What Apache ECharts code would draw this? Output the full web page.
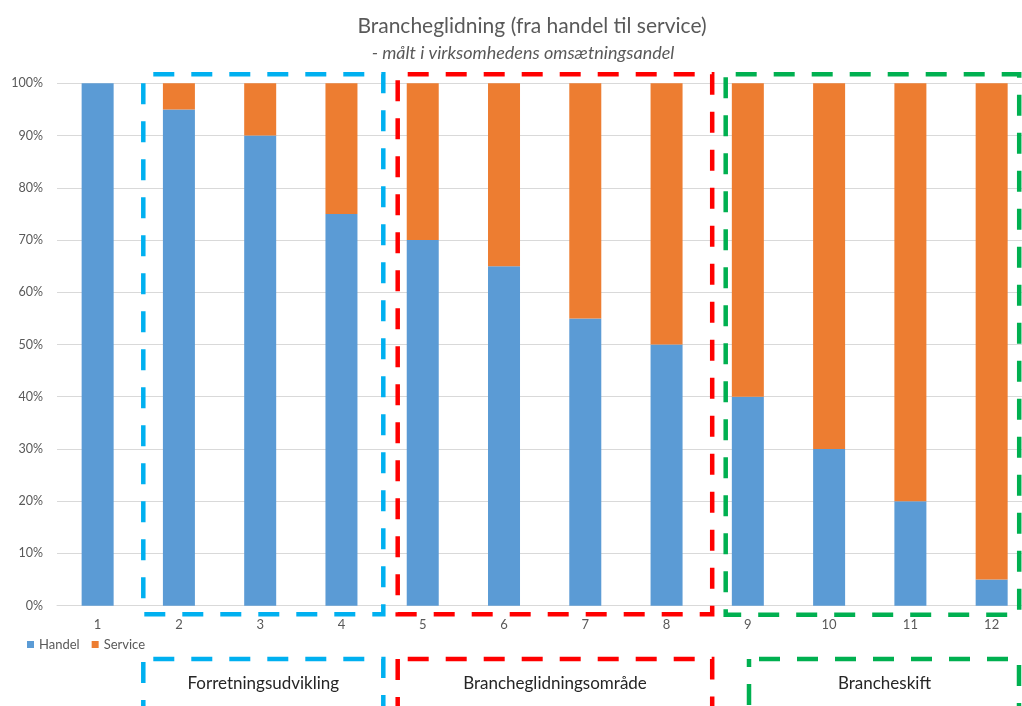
<!DOCTYPE html>
<html>
<head>
<meta charset="utf-8">
<script src="https://cdn.jsdelivr.net/npm/echarts@6/dist/echarts.min.js"></script>
<style>
  html, body { margin: 0; padding: 0; background: #fff; }
  #chart { width: 1022px; height: 706px; }
</style>
</head>
<body>
<div id="chart"></div>
<script>
// ---- data ----
const categories = ['1', '2', '3', '4', '5', '6', '7', '8', '9', '10', '11', '12'];
const handel = [100, 95, 90, 75, 70, 65, 55, 50, 40, 30, 20, 5];
const service = [0, 5, 10, 25, 30, 35, 45, 50, 60, 70, 80, 95];
const yTicks = [0, 10, 20, 30, 40, 50, 60, 70, 80, 90, 100];
const seriesNames = ['Handel', 'Service'];
const groupLabels = ['Forretningsudvikling', 'Brancheglidningsområde', 'Brancheskift'];
const titleText = 'Brancheglidning (fra handel til service)';
const subtitleText = '- målt i virksomhedens omsætningsandel';

const FONT = 'Lato, "Liberation Sans", sans-serif';
const GRAY = '#595959';
const DASH = [21, 17];
const DASH_OFF = 28;

function box(x, y, w, h, color) {
  return {
    type: 'rect',
    shape: { x: x, y: y, width: w, height: h },
    style: { fill: null, stroke: color, lineWidth: 4.5, lineDash: DASH, lineDashOffset: DASH_OFF },
    z: 100
  };
}
function label(cx, cy, text) {
  return {
    type: 'text',
    x: cx, y: cy,
    style: { text: text, fill: '#262626', font: '17px ' + FONT, textAlign: 'center', textVerticalAlign: 'middle' },
    z: 101
  };
}

const chart = echarts.init(document.getElementById('chart'), null, { renderer: 'canvas' });
chart.setOption({
  animation: false,
  backgroundColor: '#fff',
  title: [
    { text: titleText, left: 527, top: 11, textAlign: 'center',
      textStyle: { fontFamily: FONT, fontSize: 21, fontWeight: 'normal', color: GRAY } },
    { text: subtitleText, left: 518, top: 39, textAlign: 'center',
      textStyle: { fontFamily: FONT, fontSize: 18, fontStyle: 'italic', fontWeight: 'normal', color: GRAY } }
  ],
  legend: {
    data: seriesNames,
    left: 27, top: 638,
    itemWidth: 7, itemHeight: 7, itemGap: 12,
    icon: 'rect',
    textStyle: { fontFamily: FONT, fontSize: 13, color: GRAY },
    padding: 0
  },
  grid: { left: 57, width: 975.3, top: 83.3, height: 522.4, containLabel: false, outerBoundsMode: 'none' },
  xAxis: {
    type: 'category',
    data: categories,
    axisLine: { show: true, lineStyle: { color: '#D9D9D9', width: 1 } },
    axisTick: { show: false },
    axisLabel: { margin: 13, fontFamily: FONT, fontSize: 13, color: GRAY }
  },
  yAxis: {
    type: 'value',
    min: yTicks[0], max: yTicks[yTicks.length - 1], interval: yTicks[1] - yTicks[0],
    axisLine: { show: false },
    axisTick: { show: false },
    splitLine: { lineStyle: { color: '#D9D9D9', width: 1 } },
    axisLabel: { margin: 14, fontFamily: FONT, fontSize: 12.5, color: GRAY, formatter: '{value}%' }
  },
  series: [
    { name: seriesNames[0], type: 'bar', stack: 'total', data: handel, barWidth: 32,
      itemStyle: { color: '#5B9BD5' } },
    { name: seriesNames[1], type: 'bar', stack: 'total', data: service, barWidth: 32,
      itemStyle: { color: '#ED7D31' } }
  ],
  graphic: [
    box(143.3, 74.3, 240, 540, '#00B0F0'),
    box(397.7, 74.3, 314.5, 540, '#FF0000'),
    box(725.7, 74.3, 293.5, 540.5, '#00B050'),
    box(143.3, 659, 240, 100, '#00B0F0'),
    box(397.7, 659, 314.5, 100, '#FF0000'),
    box(749, 659, 270, 100, '#00B050'),
    label(263.3, 684, groupLabels[0]),
    label(555, 684, groupLabels[1]),
    label(884.5, 684, groupLabels[2])
  ]
});
</script>
</body>
</html>
